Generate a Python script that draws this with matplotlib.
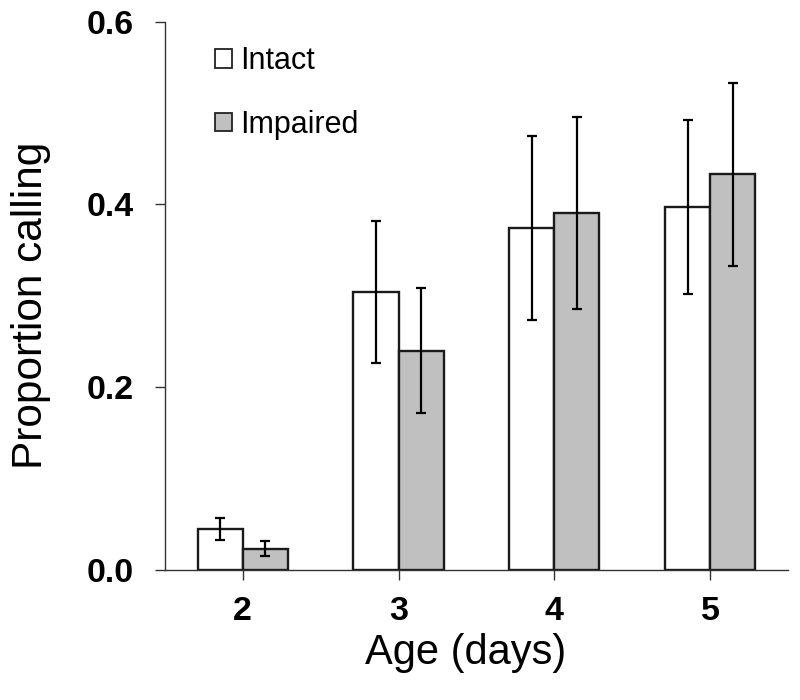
import numpy as np
import matplotlib.pyplot as plt
from matplotlib.patches import Patch

plt.rcParams['font.family'] = ['Liberation Sans', 'DejaVu Sans']

# データ
ages = ['2', '3', '4', '5']
intact = [0.045, 0.304, 0.374, 0.397]
intact_err = [0.012, 0.078, 0.101, 0.095]
impaired = [0.023, 0.240, 0.391, 0.433]
impaired_err = [0.008, 0.068, 0.105, 0.100]

x = np.arange(len(ages))
w = 0.29

fig = plt.figure(figsize=(8, 7), dpi=100)
ax = fig.add_axes([0.206, 0.186, 0.779, 0.783])

err_kw = dict(ecolor='black', elinewidth=1.6, capsize=3.5, capthick=1.6)
ax.bar(x - w / 2, intact, w, yerr=intact_err, color='white',
       edgecolor='#1a1a1a', linewidth=1.7, error_kw=err_kw, zorder=2)
ax.bar(x + w / 2, impaired, w, yerr=impaired_err, color='#c0c0c0',
       edgecolor='#1a1a1a', linewidth=1.7, error_kw=err_kw, zorder=2)

ax.set_xlim(-0.5, 3.5)
ax.set_ylim(0, 0.6)
ax.set_yticks([0.0, 0.2, 0.4, 0.6])
ax.set_yticklabels(['0.0', '0.2', '0.4', '0.6'])
ax.set_xticks(x)
ax.set_xticklabels(ages)

for s in ['top', 'right']:
    ax.spines[s].set_visible(False)
for s in ['left', 'bottom']:
    ax.spines[s].set_color('#333333')
    ax.spines[s].set_linewidth(1.0)

ax.tick_params(axis='both', direction='out', length=7, width=1.0,
               color='#333333', labelsize=24.5)
ax.tick_params(axis='y', pad=15)
ax.tick_params(axis='x', pad=12)
for lab in ax.get_xticklabels() + ax.get_yticklabels():
    lab.set_fontweight('bold')

ax.set_xlabel('Age (days)', fontsize=30)
ax.set_ylabel('Proportion calling', fontsize=30.5)
ax.xaxis.set_label_coords(0.483, -0.116)
ax.yaxis.set_label_coords(-0.183, 0.482)

handles = [Patch(facecolor='white', edgecolor='#222222', linewidth=1.3),
           Patch(facecolor='#c0c0c0', edgecolor='#222222', linewidth=1.3)]
ax.legend(handles, ['Intact', 'Impaired'], loc='upper left',
          bbox_to_anchor=(0.037, 1.005), frameon=False, fontsize=22,
          handlelength=0.55, handleheight=0.55, handletextpad=0.25,
          labelspacing=1.1)

fig.savefig('out.png', dpi=100)
